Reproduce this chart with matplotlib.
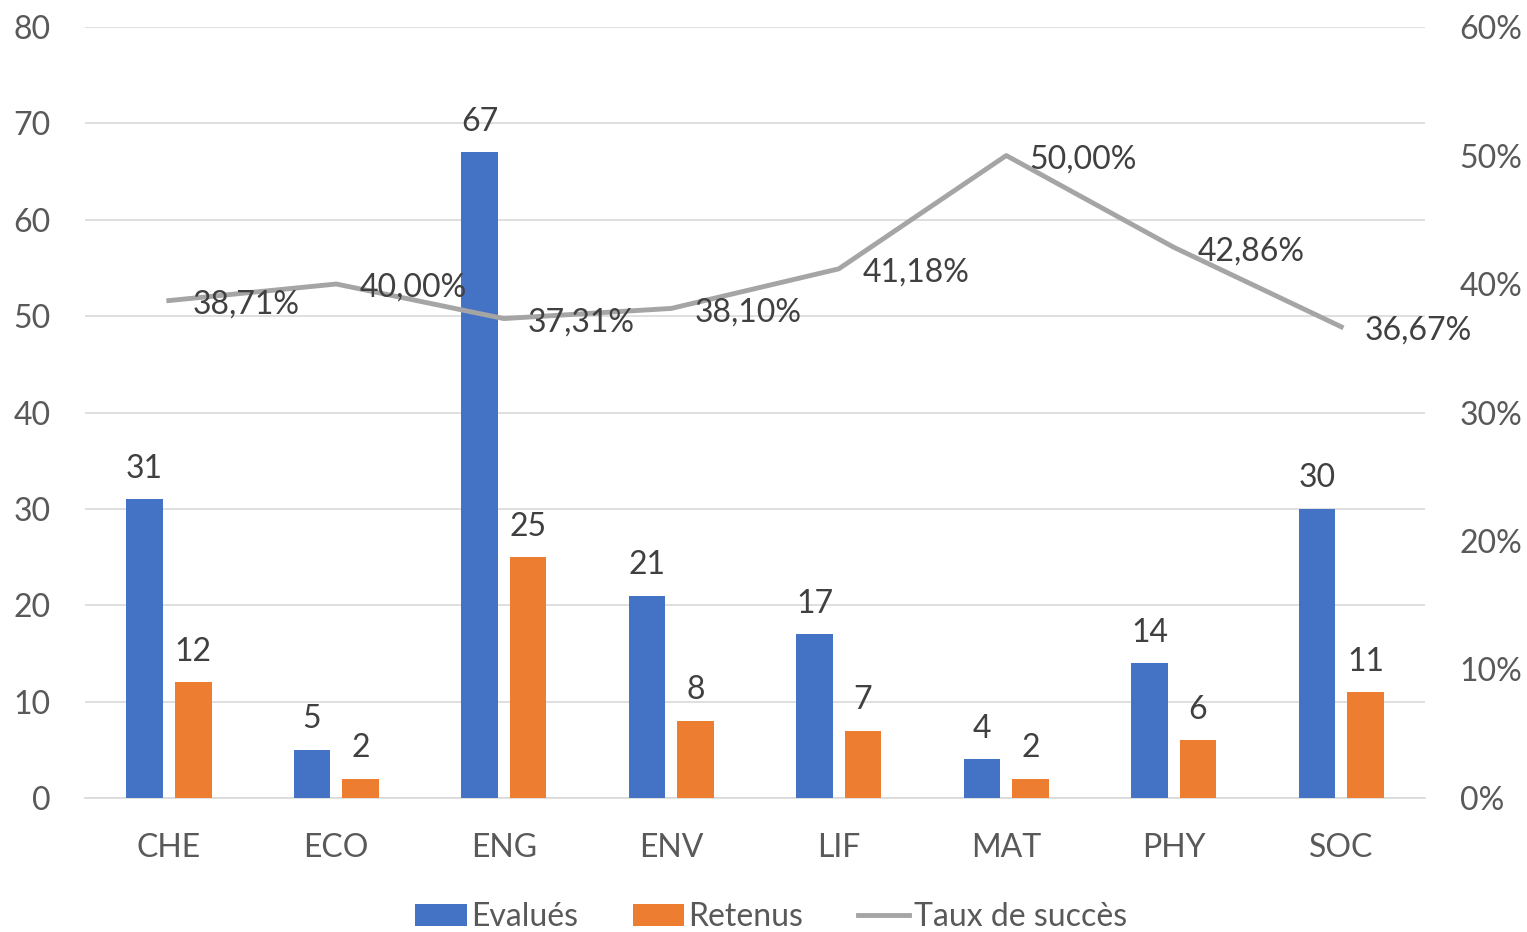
import matplotlib
matplotlib.use("Agg")
import matplotlib.pyplot as plt
import numpy as np
from matplotlib.ticker import FuncFormatter

plt.rcParams['font.family'] = ['Lato', 'DejaVu Sans']

categories = ['CHE', 'ECO', 'ENG', 'ENV', 'LIF', 'MAT', 'PHY', 'SOC']
evalues = [31, 5, 67, 21, 17, 4, 14, 30]
retenus = [12, 2, 25, 8, 7, 2, 6, 11]
taux = [38.71, 40.00, 37.31, 38.10, 41.18, 50.00, 42.86, 36.67]

blue = '#4472C4'
orange = '#ED7D31'
gray = '#A5A5A5'
txt = '#404040'
tick_col = '#595959'
fs = 23

fig = plt.figure(figsize=(15.27, 9.32), dpi=100)
ax = fig.add_axes([0.0557, 0.1438, 0.8775, 0.8272])
ax2 = ax.twinx()

x = np.arange(len(categories))
w = 0.22
off = 0.145
b1 = ax.bar(x - off, evalues, w, color=blue, label='Evalués', zorder=3)
b2 = ax.bar(x + off, retenus, w, color=orange, label='Retenus', zorder=3)

for bars, vals in ((b1, evalues), (b2, retenus)):
    for b, v in zip(bars, vals):
        ax.text(b.get_x() + b.get_width() / 2, v + 1.6, str(v),
                ha='center', va='bottom', fontsize=fs, color=txt)

ax.set_xlim(-0.5, len(categories) - 0.5)
ax.set_ylim(0, 80)
ax.set_yticks(range(0, 81, 10))
ax.set_xticks(x)
ax.set_xticklabels(categories)
ax.grid(axis='y', color='#D9D9D9', linewidth=1.2, zorder=0)
for s in ['top', 'left', 'right']:
    ax.spines[s].set_visible(False)
ax.spines['bottom'].set_color('#D9D9D9')
ax.spines['bottom'].set_linewidth(1.2)
ax.tick_params(axis='both', length=0, labelsize=fs, labelcolor=tick_col)
ax.tick_params(axis='x', pad=25)
ax.tick_params(axis='y', pad=25)

line, = ax2.plot(x, taux, color=gray, linewidth=3.5, label='Taux de succès', zorder=4)
for xi, t in zip(x, taux):
    ax2.text(xi + 0.14, t - 0.3, f'{t:.2f}%'.replace('.', ','), ha='left', va='center',
             fontsize=fs, color=txt, zorder=5)
ax2.set_ylim(0, 60)
ax2.set_yticks(range(0, 61, 10))
ax2.yaxis.set_major_formatter(FuncFormatter(lambda v, p: f'{int(v)}%'))
for s in ['top', 'left', 'right', 'bottom']:
    ax2.spines[s].set_visible(False)
ax2.tick_params(axis='y', length=0, labelsize=fs, labelcolor=tick_col, pad=25)

handles = [b1, b2, line]
fig.legend(handles, [h.get_label() for h in handles], loc='center',
           bbox_to_anchor=(0.505, 0.016), ncol=3, frameon=False, fontsize=fs,
           labelcolor=tick_col, handlelength=1.6, handletextpad=0.15,
           columnspacing=1.7)

fig.savefig('out.png', dpi=100)
